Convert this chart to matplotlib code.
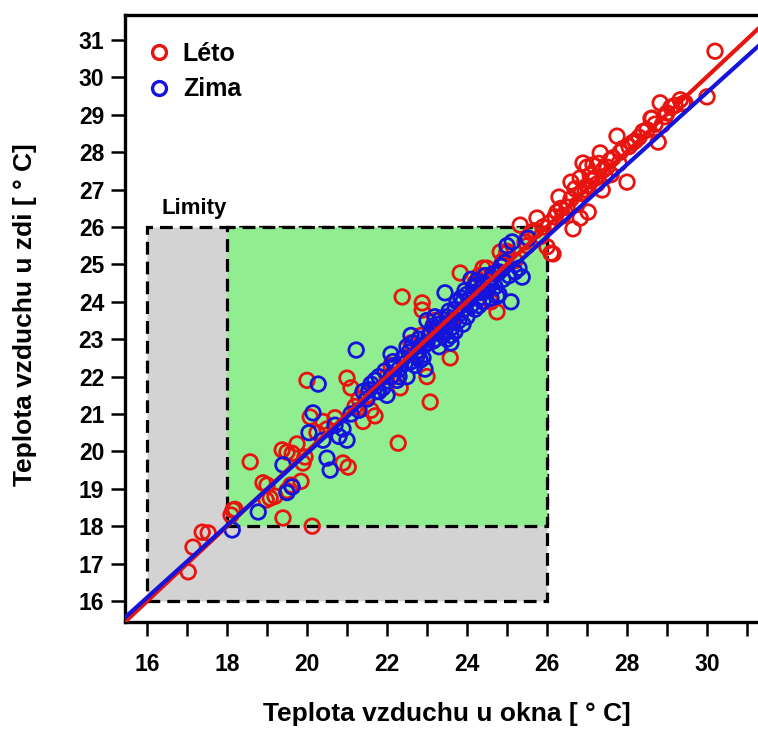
import matplotlib
matplotlib.use("Agg")
import matplotlib.pyplot as plt
from matplotlib.patches import Rectangle
from matplotlib.lines import Line2D

# ---------------- data ----------------
leto_x = [17.03, 17.15, 17.38, 17.53, 18.15, 18.10, 18.20,
          18.58, 18.90, 19.00, 19.08, 19.20, 18.98, 19.40, 20.13,
          19.38, 19.50, 19.63, 19.75, 19.90, 19.60, 19.50, 19.85, 19.95,
          20.00, 20.08, 20.40, 20.25, 20.50, 20.70, 20.90, 21.03, 21.00, 21.10,
          21.30, 21.20, 21.50, 21.40, 21.60, 21.70,
          22.33, 22.00, 22.28, 22.38, 22.88, 22.88, 22.85, 22.70, 23.08, 23.00,
          23.58, 23.30, 23.60, 23.83, 24.20, 24.75, 24.60, 24.50, 24.90, 25.00,
          25.20, 24.40, 24.83, 25.00, 22.10, 22.60, 23.20, 23.90, 24.30,
          25.33, 25.75, 25.50, 25.70, 25.90, 26.00, 26.15, 26.10, 26.20, 26.35,
          26.50, 26.65, 26.70, 26.83, 26.83, 26.90, 26.85, 27.03, 27.08, 27.15,
          27.00, 27.20, 27.33, 27.38, 27.40, 27.50, 27.58, 27.60, 27.75, 27.83,
          27.90, 28.00, 28.13, 28.20, 28.40, 28.60, 28.63, 28.78, 28.83, 28.88,
          29.00, 29.10, 29.33, 29.45, 29.40, 30.00, 30.20,
          25.45, 25.60, 25.85, 26.05, 26.25, 26.40, 26.60, 26.75, 26.95, 27.10,
          27.25, 27.45, 27.65, 27.80, 28.05, 28.30, 28.50, 28.70, 28.95, 29.20,
          26.30, 26.60, 27.00, 27.30, 25.50]
leto_y = [16.78, 17.44, 17.84, 17.82, 18.43, 18.30, 18.45,
          19.72, 19.16, 19.10, 18.75, 18.80, 18.70, 18.22, 18.00,
          20.04, 19.98, 19.95, 20.20, 19.69, 19.10, 18.95, 19.20, 19.85,
          21.90, 20.92, 20.80, 20.50, 20.60, 20.90, 19.69, 19.58, 21.96, 21.70,
          21.40, 21.20, 21.50, 20.80, 21.10, 20.95,
          21.70, 22.00, 20.22, 24.13, 23.97, 23.78, 23.10, 22.60, 21.32, 22.00,
          22.50, 23.20, 23.50, 24.77, 24.50, 23.73, 24.00, 24.90, 25.10, 25.30,
          25.10, 24.90, 25.33, 25.35, 22.30, 22.90, 23.50, 23.80, 24.70,
          26.05, 26.24, 25.70, 25.90, 26.00, 25.47, 25.28, 25.30, 26.27, 26.50,
          26.53, 25.95, 27.02, 26.24, 27.31, 27.71, 26.90, 26.40, 27.39, 27.66,
          27.10, 27.30, 27.98, 26.99, 27.52, 27.60, 27.79, 27.40, 28.43, 28.00,
          28.10, 27.20, 28.25, 28.30, 28.55, 28.90, 28.91, 28.27, 29.32, 28.73,
          29.05, 29.20, 29.40, 29.32, 29.30, 29.48, 30.70,
          25.60, 25.85, 25.75, 26.10, 26.40, 26.30, 26.75, 26.60, 27.00, 27.25,
          27.15, 27.35, 27.85, 27.70, 28.15, 28.40, 28.60, 28.75, 28.95, 29.25,
          26.80, 27.20, 27.60, 27.70, 25.50]

zima_x = [18.13, 18.78, 19.40, 19.63, 19.50, 20.15, 20.05, 20.28, 20.50, 20.58,
          20.40, 20.80, 20.90, 20.70, 21.23, 21.10, 21.00, 21.30, 21.50, 21.40,
          21.60, 21.70, 21.80, 21.90, 22.00, 22.10, 22.20, 22.30, 22.40, 22.10,
          22.50, 22.60, 22.70, 22.50, 22.80, 22.90, 23.00, 23.10, 22.95, 23.20,
          23.30, 23.40, 23.50, 23.45, 23.60, 23.70, 23.80, 23.90, 23.90, 24.00,
          24.10, 24.20, 24.30, 24.40, 24.50, 24.10, 24.60, 24.70, 24.80, 24.90,
          25.00, 25.10, 25.13, 25.38, 25.30, 25.20, 25.53, 23.50, 23.60, 23.70,
          24.00, 24.20, 22.80, 22.60, 23.00, 23.20, 24.40, 24.60, 23.30, 21.80,
          22.30, 22.83, 23.85, 24.25, 24.75, 23.15, 22.45,
          21.55, 21.75, 21.95, 22.15, 22.25, 22.55, 22.65, 22.75, 22.95, 23.05,
          23.15, 23.25, 23.35, 23.45, 23.55, 23.65, 23.75, 23.85, 23.95, 24.05,
          24.15, 24.25, 24.35, 24.45, 24.55, 24.65, 24.85, 24.95, 24.30, 23.60,
          24.80, 25.05]
zima_y = [17.90, 18.38, 19.64, 19.05, 18.90, 21.03, 20.50, 21.80, 19.82, 19.50,
          20.30, 20.40, 20.60, 20.70, 22.71, 21.00, 20.30, 21.10, 21.40, 21.60,
          21.80, 21.90, 22.00, 21.70, 21.50, 22.00, 22.30, 22.20, 22.50, 22.60,
          22.80, 22.40, 22.30, 22.00, 22.70, 22.50, 22.90, 23.20, 22.20, 23.00,
          23.40, 23.10, 23.60, 24.24, 23.30, 23.80, 23.50, 24.00, 23.40, 24.20,
          23.90, 24.40, 24.10, 24.50, 24.30, 24.60, 24.60, 24.40, 24.80, 24.60,
          25.50, 24.00, 25.60, 24.66, 24.90, 24.80, 25.70, 23.00, 22.90, 23.20,
          23.60, 23.80, 23.00, 23.10, 23.50, 23.60, 24.00, 24.10, 22.80, 21.60,
          22.00, 22.44, 24.10, 24.45, 24.15, 23.35, 22.35,
          21.65, 21.60, 22.15, 22.40, 21.90, 22.65, 22.90, 22.55, 22.85, 23.10,
          22.95, 23.25, 23.55, 23.20, 23.75, 23.45, 24.00, 23.70, 24.30, 24.05,
          24.25, 24.55, 24.25, 24.70, 24.45, 24.75, 24.95, 25.05, 23.90, 23.10,
          24.20, 24.70]

# regression lines (intercept, slope)
leto_fit = (-0.04, 1.002)
zima_fit = (0.65, 0.965)

# limits (comfort zones)
limit_outer = (16, 26)
limit_inner = (18, 26)

x_ticks = [16, 18, 20, 22, 24, 26, 28, 30]
x_minor = list(range(16, 32))
y_ticks = list(range(16, 32))

labels = ["Léto", "Zima"]
xlabel = "Teplota vzduchu u okna [ ° C]"
ylabel = "Teplota vzduchu u zdi [ ° C]"

# ---------------- style ----------------
RED = "#E81410"
BLUE = "#1414DC"
plt.rcParams["font.family"] = ["Liberation Sans", "DejaVu Sans"]
plt.rcParams["font.weight"] = "bold"

W, H = 758, 729
fig = plt.figure(figsize=(W / 100, H / 100), dpi=100)
ax = fig.add_axes([125 / W, (H - 622) / H, 650 / W, (622 - 15) / H])
px_x = 40.0
px_y = 37.4
ax.set_xlim(16 - 22 / px_x, 16 - 22 / px_x + 650 / px_x)
ax.set_ylim(16 - 21 / px_y, 31 + 25 / px_y)

# limit rectangles
o0, o1 = limit_outer
i0, i1 = limit_inner
dash = (0, (4.0, 2.2))
ax.add_patch(Rectangle((o0, o0), o1 - o0, o1 - o0, facecolor="#D3D3D3",
                       edgecolor="black", lw=2.3, linestyle=dash, zorder=1))
ax.add_patch(Rectangle((i0, i0), i1 - i0, i1 - i0, facecolor="#90EE90",
                       edgecolor="black", lw=2.3, linestyle=dash, zorder=1.1))
ax.text(o0 + 0.37, o1 + 0.22, "Limity", fontsize=16, fontweight="bold",
        ha="left", va="bottom")

ms = 110
ax.scatter(leto_x, leto_y, s=ms, facecolors="none", edgecolors=RED,
           linewidths=2.0, zorder=3)
ax.scatter(zima_x, zima_y, s=ms, facecolors="none", edgecolors=BLUE,
           linewidths=2.0, zorder=4)

ax.axline((0, leto_fit[0]), slope=leto_fit[1], color=RED, lw=3, zorder=5)
ax.axline((0, zima_fit[0]), slope=zima_fit[1], color=BLUE, lw=3, zorder=6)

# axes styling
for s in ax.spines.values():
    s.set_linewidth(2.4)
ax.set_xticks(x_minor)
ax.set_xticklabels([str(v) if v in x_ticks else "" for v in x_minor])
ax.set_yticks(y_ticks)
ax.set_yticklabels([str(v) for v in y_ticks])
ax.tick_params(axis="both", which="major", direction="out", length=10,
               width=1.8, labelsize=16.5)
ax.tick_params(axis="x", pad=12)
ax.tick_params(axis="y", pad=5)
for lab in ax.get_xticklabels() + ax.get_yticklabels():
    lab.set_fontweight("bold")

fig.text(447 / W, 1 - 714 / H, xlabel, ha="center", va="center",
         fontsize=19, fontweight="bold")
fig.text(25 / W, 1 - 315 / H, ylabel, ha="center", va="center",
         rotation=90, fontsize=19, fontweight="bold")

handles = [Line2D([], [], marker="o", ls="none", markerfacecolor="none",
                  markeredgecolor=c, markeredgewidth=2.4, markersize=10)
           for c in (RED, BLUE)]
leg = fig.legend(handles, labels, loc="upper left",
                 bbox_to_anchor=(134 / W, 1 - 32 / H), frameon=False,
                 prop={"size": 18, "weight": "bold"}, handletextpad=0.35,
                 borderaxespad=0.0, borderpad=0.4, labelspacing=0.45,
                 handlelength=1.2)

fig.savefig("out.png", dpi=100)
